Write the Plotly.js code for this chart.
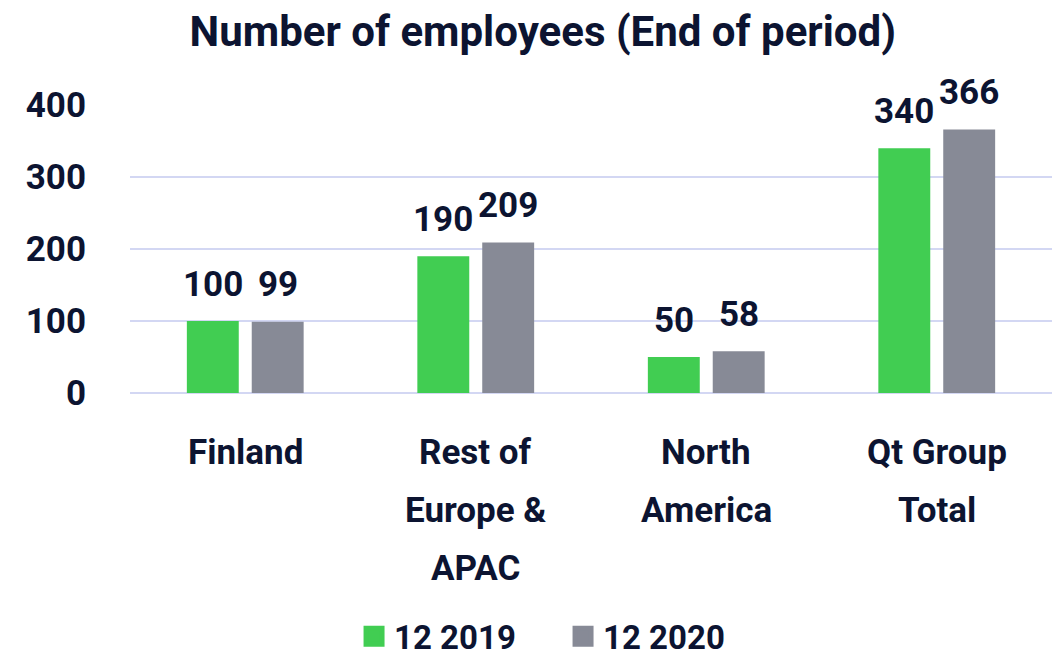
<!DOCTYPE html>
<html>
<head>
<meta charset="utf-8">
<script src="https://cdn.plot.ly/plotly-3.0.1.min.js"></script>
<style>html,body{margin:0;padding:0;background:#fff;}#chart{width:1058px;height:658px;}</style>
</head>
<body>
<div id="chart"></div>
<script>
const categories = ["Finland", "Rest of<br>Europe &<br>APAC", "North<br>America", "Qt Group<br>Total"];
const seriesNames = ["12 2019", "12 2020"];
const values2019 = [100, 190, 50, 340];
const values2020 = [99, 209, 58, 366];
const yTicks = [0, 100, 200, 300, 400];

const dark = "#0c1431";
const fontFam = "Roboto, 'Open Sans', sans-serif";
const colors = ["#41cd52", "#878a96"];
const allValues = [values2019, values2020];

const traces = [];
allValues.forEach((vals, i) => {
  traces.push({type: "bar", name: seriesNames[i], x: categories, y: vals, offsetgroup: "g" + i,
    marker: {color: colors[i]}, showlegend: false, hoverinfo: "none"});
});
// legend entries (bigger square swatches)
allValues.forEach((vals, i) => {
  traces.push({type: "scatter", mode: "markers", name: seriesNames[i], x: [categories[0]], y: [null],
    marker: {color: colors[i], symbol: "square", size: 24, line: {color: colors[i], width: 5}},
    showlegend: true, hoverinfo: "none"});
});

const annotations = [];
// value labels
allValues.forEach((vals, i) => {
  vals.forEach((v, j) => {
    annotations.push({x: categories[j], y: v, xref: "x", yref: "y", text: String(v), showarrow: false,
      xshift: (i === 0 ? -32.5 : 32.5), yshift: 37, yanchor: "middle", xanchor: "center",
      font: {size: 35, color: dark, family: fontFam, weight: 700}});
  });
});
// category labels, one annotation per line
categories.forEach((c) => {
  c.split("<br>").forEach((line, k) => {
    annotations.push({x: c, y: 0, xref: "x", yref: "paper", text: line, showarrow: false,
      yanchor: "middle", xanchor: "center", yshift: -59 - 58 * k,
      font: {size: 35, color: dark, family: fontFam, weight: 700}});
  });
});

const layout = {
  width: 1058, height: 658,
  margin: {l: 130, r: 6, t: 105, b: 265, autoexpand: false},
  paper_bgcolor: "#fff", plot_bgcolor: "#fff",
  font: {family: fontFam, color: dark, weight: 700},
  title: {text: "Number of employees (End of period)", x: 0.513, xanchor: "center", y: 0.953, yanchor: "middle",
          font: {size: 42, color: dark, family: fontFam, weight: 700}},
  barmode: "group", bargap: 0.437, bargroupgap: 0.2,
  xaxis: {showticklabels: false, showgrid: false, showline: false, ticks: "", automargin: false},
  yaxis: {range: [0, 400], tickvals: yTicks, ticktext: yTicks.map(String),
          tickfont: {size: 35, color: dark, family: fontFam, weight: 700},
          showgrid: true, gridcolor: "#d3d7f3", gridwidth: 2, zeroline: true, zerolinecolor: "#d3d7f3", zerolinewidth: 2,
          showline: false, ticks: "", ticklabelstandoff: 43, automargin: false},
  annotations: annotations,
  showlegend: true,
  legend: {orientation: "h", x: 0.243, xanchor: "left", y: -0.845, yanchor: "middle",
           entrywidth: 164, entrywidthmode: "pixels",
           font: {size: 33, color: dark, family: fontFam, weight: 700}, itemwidth: 30, traceorder: "normal"}
};

Plotly.newPlot("chart", traces, layout, {displayModeBar: false, staticPlot: true});
</script>
</body>
</html>
